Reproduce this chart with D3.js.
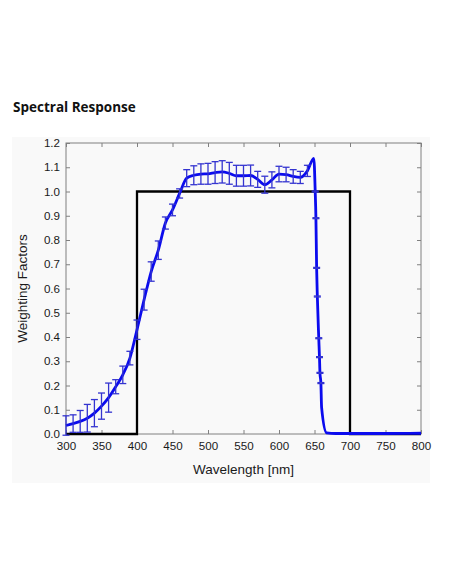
<!DOCTYPE html>
<html>
<head>
<meta charset="utf-8">
<script src="https://cdn.jsdelivr.net/npm/d3@7"></script>
<style>
  body { margin: 0; background: #fff; }
</style>
</head>
<body>
<div id="chart"></div>
<script>
// measured response (blue) with its error half-widths
const wavelength = [300, 310, 320, 330, 340, 350, 360, 370, 380, 390,
                    400, 410, 420, 430, 440, 450, 460, 470, 480, 490,
                    500, 510, 520, 530, 540, 550, 560, 570, 580, 590,
                    600, 610, 620, 630, 640, 649, 651, 652, 653, 654,
                    656, 657, 657.7, 659, 660, 667, 680, 700, 750, 800];
const response = [0.035, 0.043, 0.052, 0.065, 0.086, 0.115, 0.15, 0.195, 0.244, 0.313,
                  0.43, 0.554, 0.67, 0.758, 0.87, 0.924, 0.992, 1.055, 1.067, 1.072,
                  1.073, 1.078, 1.081, 1.075, 1.065, 1.065, 1.066, 1.05, 1.028, 1.048,
                  1.072, 1.07, 1.062, 1.058, 1.085, 1.137, 1.0, 0.89, 0.685, 0.567,
                  0.395, 0.317, 0.252, 0.21, 0.11, 0.005, 0.002, 0.002, 0.002, 0.003];
const errorBar = [0.04, 0.036, 0.045, 0.057, 0.056, 0.054, 0.06, 0.029, 0.036, 0.028,
                  0.04, 0.043, 0.04, 0.038, 0.025, 0.024, 0.019, 0.035, 0.039, 0.042,
                  0.043, 0.045, 0.046, 0.045, 0.043, 0.043, 0.043, 0.033, 0.035, 0.033,
                  0.032, 0.03, 0.028, 0.025, 0.023, 0, 0.002, 0.002, 0.002, 0.002,
                  0.002, 0.002, 0.002, 0.002, 0, 0, 0, 0, 0, 0];

// ideal weighting window (black)
const windowX = [300, 400, 400, 700, 700, 800];
const windowY = [0, 0, 1, 1, 0, 0];

const xTicks = [300, 350, 400, 450, 500, 550, 600, 650, 700, 750, 800];
const yTicks = [0.0, 0.1, 0.2, 0.3, 0.4, 0.5, 0.6, 0.7, 0.8, 0.9, 1.0, 1.1, 1.2];

const W = 452, H = 584;
const svg = d3.select('#chart')
    .append('svg')
    .attr('width', W)
    .attr('height', H)
    .style('font-family', 'Liberation Sans, Arial, sans-serif');

// figure background
svg.append('rect')
    .attr('x', 12).attr('y', 137)
    .attr('width', 418).attr('height', 346)
    .attr('fill', '#f9f9f9');

// title
svg.append('text')
    .attr('x', 13).attr('y', 112)
    .attr('font-family', 'Open Sans, Noto Sans, sans-serif')
    .attr('font-weight', 'bold')
    .attr('font-size', 13.5)
    .attr('fill', '#111')
    .text('Spectral Response');

// plot box
const box = {left: 66, right: 421, top: 143, bottom: 434};
const x = d3.scaleLinear().domain([300, 800]).range([box.left, box.right]);
const y = d3.scaleLinear().domain([0, 1.2]).range([box.bottom, box.top]);

const axisColor = '#808080';
const styleAxis = g => {
    g.select('.domain').remove();
    g.selectAll('.tick line').attr('stroke', axisColor);
    g.selectAll('.tick text').attr('fill', '#1a1a1a').attr('font-size', 11.6);
};

svg.append('g')
    .attr('transform', `translate(0, ${box.bottom})`)
    .call(d3.axisBottom(x).tickValues(xTicks).tickSizeInner(-4).tickSizeOuter(0).tickPadding(8))
    .call(styleAxis);
svg.append('g')
    .attr('transform', `translate(0, ${box.top})`)
    .call(d3.axisTop(x).tickValues(xTicks).tickSizeInner(-4).tickSizeOuter(0).tickFormat(''))
    .call(styleAxis);
svg.append('g')
    .attr('transform', `translate(${box.left}, 0)`)
    .call(d3.axisLeft(y).tickValues(yTicks).tickSizeInner(-4).tickSizeOuter(0).tickPadding(6).tickFormat(d3.format('.1f')))
    .call(styleAxis);
svg.append('g')
    .attr('transform', `translate(${box.right}, 0)`)
    .call(d3.axisRight(y).tickValues(yTicks).tickSizeInner(-4).tickSizeOuter(0).tickFormat(''))
    .call(styleAxis);

svg.append('rect')
    .attr('x', box.left).attr('y', box.top)
    .attr('width', box.right - box.left).attr('height', box.bottom - box.top)
    .attr('fill', 'none')
    .attr('stroke', axisColor)
    .attr('stroke-width', 1);

// black window
const windowData = windowX.map((v, i) => ({x: v, y: windowY[i]}));
svg.append('path')
    .datum(windowData)
    .attr('fill', 'none')
    .attr('stroke', '#000')
    .attr('stroke-width', 2.3)
    .attr('d', d3.line().x(d => x(d.x)).y(d => y(d.y)));

// blue measured curve
const data = wavelength.map((w, i) => ({w: w, v: response[i], e: errorBar[i]}));
svg.append('path')
    .datum(data)
    .attr('fill', 'none')
    .attr('stroke', '#0b0bee')
    .attr('stroke-width', 2.8)
    .attr('stroke-linejoin', 'round')
    .attr('d', d3.line().x(d => x(d.w)).y(d => y(d.v)).curve(d3.curveMonotoneX));

// error bars
const bars = svg.append('g')
    .attr('stroke', '#3434d0')
    .attr('stroke-width', 1.3)
    .selectAll('g')
    .data(data.filter(d => d.e > 0))
    .join('g');
bars.append('line')
    .attr('x1', d => x(d.w)).attr('x2', d => x(d.w))
    .attr('y1', d => y(d.v - d.e)).attr('y2', d => y(d.v + d.e));
bars.append('line')
    .attr('x1', d => x(d.w) - 3.5).attr('x2', d => x(d.w) + 3.5)
    .attr('y1', d => y(d.v + d.e)).attr('y2', d => y(d.v + d.e));
bars.append('line')
    .attr('x1', d => x(d.w) - 3.5).attr('x2', d => x(d.w) + 3.5)
    .attr('y1', d => y(d.v - d.e)).attr('y2', d => y(d.v - d.e));

// axis titles
svg.append('text')
    .attr('x', (box.left + box.right) / 2)
    .attr('y', 474)
    .attr('text-anchor', 'middle')
    .attr('font-size', 13.5)
    .attr('fill', '#1a1a1a')
    .text('Wavelength [nm]');
svg.append('text')
    .attr('transform', `translate(27, ${(box.top + box.bottom) / 2}) rotate(-90)`)
    .attr('text-anchor', 'middle')
    .attr('font-size', 13.5)
    .attr('fill', '#1a1a1a')
    .text('Weighting Factors');
</script>
</body>
</html>
